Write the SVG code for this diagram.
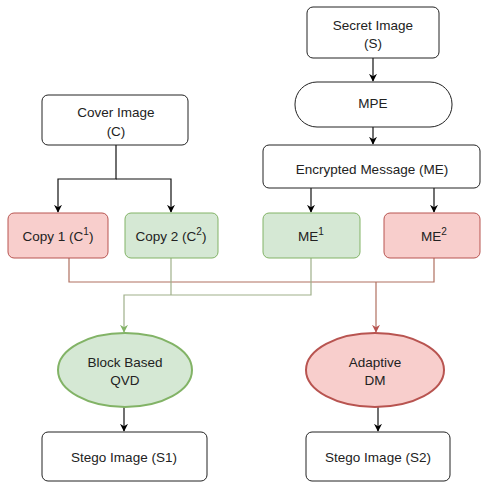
<svg xmlns="http://www.w3.org/2000/svg" width="481" height="482" viewBox="0 0 481 482">
<defs>
<marker id="ak" viewBox="0 0 10 10" refX="9" refY="5" markerWidth="8" markerHeight="8" markerUnits="userSpaceOnUse" orient="auto"><path d="M0,0 L10,5 L0,10 L3,5 Z" fill="#000"/></marker>
<marker id="ag" viewBox="0 0 10 10" refX="9" refY="5" markerWidth="8" markerHeight="8" markerUnits="userSpaceOnUse" orient="auto"><path d="M0,0 L10,5 L0,10 L3,5 Z" fill="#82b366"/></marker>
<marker id="ar" viewBox="0 0 10 10" refX="9" refY="5" markerWidth="8" markerHeight="8" markerUnits="userSpaceOnUse" orient="auto"><path d="M0,0 L10,5 L0,10 L3,5 Z" fill="#b85450"/></marker>
</defs>
<style>
.b{fill:#fff;stroke:#222;stroke-width:1}
.r{fill:#f8cecc;stroke:#b85450;stroke-width:1}
.g{fill:#d5e8d4;stroke:#82b366;stroke-width:1}
.re{fill:#f8cecc;stroke:#b85450;stroke-width:2}
.ge{fill:#d5e8d4;stroke:#82b366;stroke-width:2}
text{font-family:"Liberation Sans",Arial,sans-serif;font-size:13.5px;fill:#222;text-anchor:middle}
.k{fill:none;stroke:#111;stroke-width:1.2}
.lr{fill:none;stroke:#b07060;stroke-width:1.2}
.lg{fill:none;stroke:#9fb08a;stroke-width:1.2}
</style>
<g id="connectors">
<path class="k" d="M373,58 V81" marker-end="url(#ak)"/>
<path class="k" d="M373,127 V144" marker-end="url(#ak)"/>
<path class="k" d="M116,145 V179 H58 V212" marker-end="url(#ak)"/>
<path class="k" d="M116,179 H171 V212" marker-end="url(#ak)"/>
<path class="k" d="M311,188 V212" marker-end="url(#ak)"/>
<path class="k" d="M434,188 V212" marker-end="url(#ak)"/>
<path class="lr" d="M69,258 V282 H434 V258"/>
<path class="lr" d="M376,282 V332" marker-end="url(#ar)"/>
<path class="lg" d="M171,258 V295"/>
<path class="lg" d="M311,258 V295 H124 V332" marker-end="url(#ag)"/>
<path class="k" d="M124,407 V431" marker-end="url(#ak)"/>
<path class="k" d="M378,407 V431" marker-end="url(#ak)"/>
</g>
<g id="secret"><rect class="b" x="307" y="7" width="132" height="51" rx="6"/><text x="373" y="30">Secret Image</text><text x="373" y="48">(S)</text></g>
<g id="mpe"><rect class="b" x="295" y="82" width="157" height="45" rx="22" stroke-width="1.5"/><text x="373" y="108">MPE</text></g>
<g id="cover"><rect class="b" x="42" y="95" width="146" height="50" rx="6"/><text x="116" y="117">Cover Image</text><text x="116" y="136">(C)</text></g>
<g id="enc"><rect class="b" x="263" y="145" width="217" height="43" rx="6"/><text x="372" y="174">Encrypted Message (ME)</text></g>
<g id="copy1"><rect class="r" x="8" y="213" width="100" height="45" rx="6"/><text x="58" y="241">Copy 1 (C<tspan font-size="10" dy="-6">1</tspan><tspan dy="6">)</tspan></text></g>
<g id="copy2"><rect class="g" x="125" y="213" width="93" height="45" rx="6"/><text x="171" y="241">Copy 2 (C<tspan font-size="10" dy="-6">2</tspan><tspan dy="6">)</tspan></text></g>
<g id="me1"><rect class="g" x="263" y="213" width="97" height="45" rx="6"/><text x="311" y="241">ME<tspan font-size="10" dy="-6">1</tspan></text></g>
<g id="me2"><rect class="r" x="384" y="213" width="96" height="45" rx="6"/><text x="434" y="241">ME<tspan font-size="10" dy="-6">2</tspan></text></g>
<g id="qvd"><ellipse class="ge" cx="125" cy="370" rx="67" ry="37"/><text x="125" y="367">Block Based</text><text x="125" y="385">QVD</text></g>
<g id="dm"><ellipse class="re" cx="375" cy="370" rx="69" ry="37"/><text x="375" y="367">Adaptive</text><text x="375" y="385">DM</text></g>
<g id="s1"><rect class="b" x="42" y="432" width="165" height="49" rx="6"/><text x="124" y="462">Stego Image (S1)</text></g>
<g id="s2"><rect class="b" x="306" y="432" width="144" height="49" rx="6"/><text x="378" y="462">Stego Image (S2)</text></g>
</svg>
